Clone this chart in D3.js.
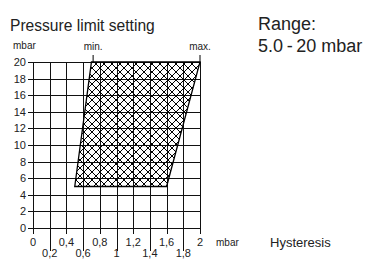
<!DOCTYPE html>
<html>
<head>
<meta charset="utf-8">
<script src="https://cdn.jsdelivr.net/npm/d3@7"></script>
<style>
  body { margin: 0; background: #fff; }
  text { font-family: "Liberation Sans", Arial, sans-serif; }
</style>
</head>
<body>
<div id="chart"></div>
<script>
// chart values
const xTicks = [0, 0.2, 0.4, 0.6, 0.8, 1, 1.2, 1.4, 1.6, 1.8, 2];
const yTicks = [0, 2, 4, 6, 8, 10, 12, 14, 16, 18, 20];
// hatched region: [hysteresis, pressure]
const regionPoints = [[0.5, 5], [1.6, 5], [2.0, 20], [0.7, 20]];
const limitLabels = [{label: "min.", x: 0.72}, {label: "max.", x: 2.0}];

const width = 385, height = 259;

const svg = d3.select("#chart")
  .append("svg")
    .attr("width", width)
    .attr("height", height);

const x = d3.scaleLinear().domain([0, 2]).range([33, 200]);
const y = d3.scaleLinear().domain([0, 20]).range([228, 62]);

// hatch pattern
const defs = svg.append("defs");
const pat = defs.append("pattern")
    .attr("id", "hatch")
    .attr("patternUnits", "userSpaceOnUse")
    .attr("width", 8)
    .attr("height", 8);
pat.append("path")
    .attr("d", "M0,0 L8,8 M8,0 L0,8 M-4,4 L4,-4 M4,12 L12,4 M-4,4 L4,12 M4,-4 L12,4")
    .attr("stroke", "#000")
    .attr("stroke-width", 1)
    .attr("fill", "none");

const fmt = d => d3.format("")(d).replace(".", ",");

// grid
svg.append("g").selectAll("line")
  .data(yTicks)
  .enter().append("line")
    .attr("x1", 28)
    .attr("x2", x(2))
    .attr("y1", d => Math.round(y(d)) + 0.5)
    .attr("y2", d => Math.round(y(d)) + 0.5)
    .attr("stroke", "#111")
    .attr("stroke-width", 1);

svg.append("g").selectAll("line")
  .data(xTicks)
  .enter().append("line")
    .attr("x1", d => Math.round(x(d)) + 0.5)
    .attr("x2", d => Math.round(x(d)) + 0.5)
    .attr("y1", y(20))
    .attr("y2", (d, i) => i % 2 ? 251 : 234)
    .attr("stroke", "#111")
    .attr("stroke-width", 1);

// hatched area
svg.append("path")
    .datum(regionPoints)
    .attr("d", d3.line().x(d => x(d[0])).y(d => y(d[1])).curve(d3.curveLinearClosed))
    .attr("fill", "url(#hatch)")
    .attr("stroke", "#000")
    .attr("stroke-width", 1.3);

// min / max markers
svg.append("g").selectAll("line")
  .data(limitLabels)
  .enter().append("line")
    .attr("x1", d => x(d.x))
    .attr("x2", d => x(d.x))
    .attr("y1", y(20) - 7)
    .attr("y2", y(20))
    .attr("stroke", "#000");

svg.append("g").selectAll("text")
  .data(limitLabels)
  .enter().append("text")
    .attr("x", d => x(d.x))
    .attr("y", 50)
    .attr("text-anchor", "middle")
    .attr("font-size", 10)
    .attr("fill", "#222")
    .text(d => d.label);

// y tick labels
svg.append("g").selectAll("text")
  .data(yTicks)
  .enter().append("text")
    .attr("x", 26)
    .attr("y", d => y(d) + 4)
    .attr("text-anchor", "end")
    .attr("font-size", 11)
    .attr("fill", "#222")
    .text(d => d);

// x tick labels, staggered
svg.append("g").selectAll("text")
  .data(xTicks)
  .enter().append("text")
    .attr("x", d => x(d))
    .attr("y", (d, i) => i % 2 ? 257 : 246)
    .attr("text-anchor", "middle")
    .attr("font-size", 11)
    .attr("fill", "#222")
    .text(d => fmt(d));

svg.append("text")
    .attr("x", 13)
    .attr("y", 49)
    .attr("font-size", 10)
    .attr("fill", "#222")
    .text("mbar");

svg.append("text")
    .attr("x", 216)
    .attr("y", 246)
    .attr("font-size", 10)
    .attr("fill", "#222")
    .text("mbar");

svg.append("text")
    .attr("x", 10)
    .attr("y", 31)
    .attr("font-size", 15.6)
    .attr("fill", "#222")
    .text("Pressure limit setting");

svg.append("text")
    .attr("x", 258)
    .attr("y", 30)
    .attr("font-size", 18)
    .attr("fill", "#222")
    .text("Range:");

svg.append("text")
    .attr("x", 258)
    .attr("y", 52)
    .attr("font-size", 18)
    .attr("fill", "#222")
    .text("5.0\u2009-\u200920 mbar");

svg.append("text")
    .attr("x", 270)
    .attr("y", 247)
    .attr("font-size", 13)
    .attr("fill", "#222")
    .text("Hysteresis");
</script>
</body>
</html>
